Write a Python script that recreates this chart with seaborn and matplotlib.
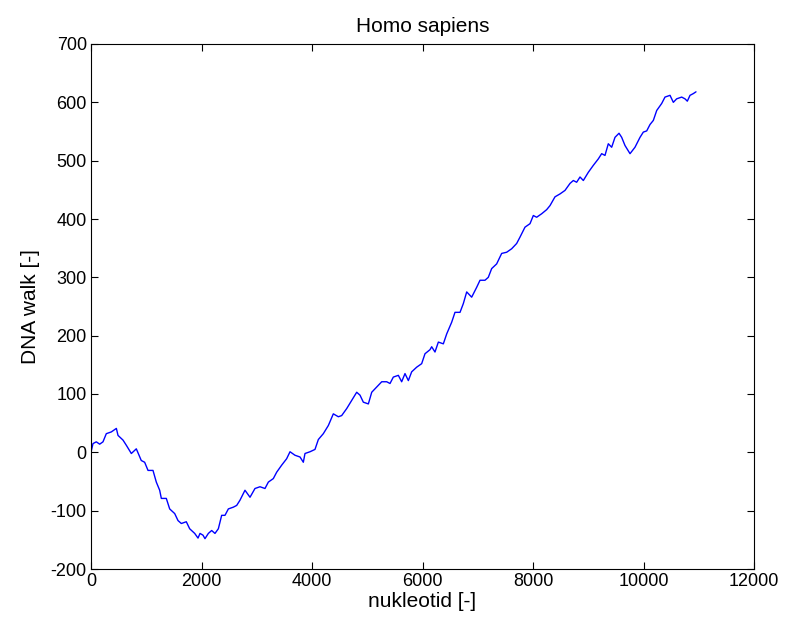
import numpy as np
import pandas as pd
import matplotlib
matplotlib.use("Agg")
import matplotlib.pyplot as plt
import seaborn as sns

nukleotid = [0, 36, 96, 157, 217, 277, 368, 459, 489, 579, 640, 730, 820, 910, 971,
             1032, 1122, 1182, 1243, 1273, 1363, 1424, 1515, 1575, 1635, 1725, 1786,
             1877, 1937, 1973, 2027, 2063, 2124, 2184, 2244, 2305, 2365, 2425, 2486,
             2576, 2637, 2697, 2787, 2878, 2968, 3059, 3149, 3210, 3300, 3361, 3451,
             3541, 3602, 3692, 3783, 3843, 3873, 3964, 4054, 4115, 4205, 4296, 4386,
             4477, 4537, 4628, 4718, 4809, 4869, 4929, 5020, 5081, 5171, 5262, 5352,
             5412, 5472, 5563, 5623, 5683, 5744, 5804, 5895, 5985, 6045, 6136, 6166,
             6226, 6287, 6377, 6438, 6528, 6588, 6679, 6739, 6800, 6890, 6981, 7041,
             7131, 7191, 7252, 7342, 7433, 7523, 7614, 7704, 7765, 7855, 7946, 8006,
             8066, 8157, 8247, 8308, 8398, 8489, 8579, 8670, 8730, 8790, 8851, 8911,
             9001, 9092, 9182, 9243, 9303, 9363, 9424, 9484, 9557, 9605, 9665, 9756,
             9846, 9937, 9997, 10058, 10118, 10178, 10239, 10329, 10389, 10480, 10540,
             10600, 10691, 10751, 10793, 10842, 10902, 10950]
dna_walk = [0, 15, 18, 14, 18, 32, 35, 41, 29, 21, 12, -2, 6, -14, -17,
            -31, -31, -51, -65, -79, -79, -97, -105, -117, -122, -119, -131,
            -139, -147, -139, -142, -148, -139, -134, -139, -131, -108, -108, -97,
            -94, -91, -82, -65, -77, -62, -59, -62, -51, -45, -34, -22,
            -11, 1, -5, -8, -17, -2, 1, 5, 22, 32, 46, 66,
            61, 63, 75, 89, 103, 98, 86, 83, 103, 112, 121, 121,
            118, 129, 132, 121, 135, 123, 138, 146, 152, 169, 176, 181,
            172, 189, 186, 203, 223, 240, 240, 255, 275, 266, 283, 295,
            295, 300, 315, 323, 341, 343, 349, 358, 369, 386, 392, 406,
            403, 409, 416, 423, 438, 443, 449, 461, 466, 463, 472, 466,
            480, 492, 503, 512, 509, 529, 523, 540, 547, 540, 526, 512,
            523, 540, 549, 551, 562, 569, 586, 598, 609, 612, 600,
            606, 609, 606, 602, 612, 615, 618]

x_ticks = [0, 2000, 4000, 6000, 8000, 10000, 12000]
y_ticks = [-200, -100, 0, 100, 200, 300, 400, 500, 600, 700]

sns.set_theme(style="ticks")
plt.rcParams['font.family'] = ['Liberation Sans', 'DejaVu Sans']

df = pd.DataFrame({"nukleotid": nukleotid, "walk": dna_walk})

fig = plt.figure(figsize=(7.85, 6.24), dpi=100)
ax = fig.add_axes([91/785, 55/624, 663/785, 525/624])
sns.lineplot(data=df, x="nukleotid", y="walk", ax=ax, color=(0, 0, 1),
             linewidth=1.0, estimator=None, sort=False)

ax.set_xlim(0, 12000)
ax.set_ylim(-200, 700)
ax.set_xticks(x_ticks)
ax.set_yticks(y_ticks)
ax.set_xticklabels([str(v) for v in x_ticks])
ax.set_yticklabels([str(v) for v in y_ticks])
ax.tick_params(direction="in", length=5, width=0.8, top=True, right=True,
               labelsize=13, colors="black", labelcolor="black", pad=3)
for s in ax.spines.values():
    s.set_visible(True)
    s.set_color("black")
    s.set_linewidth(0.8)
ax.set_xlabel("nukleotid [-]", fontsize=15, labelpad=1, color="black")
ax.set_ylabel("DNA walk [-]", fontsize=15, labelpad=8, color="black")
ax.set_title("Homo sapiens", fontsize=15, pad=9, color="black")

fig.savefig("out.png", dpi=100, facecolor="white")
